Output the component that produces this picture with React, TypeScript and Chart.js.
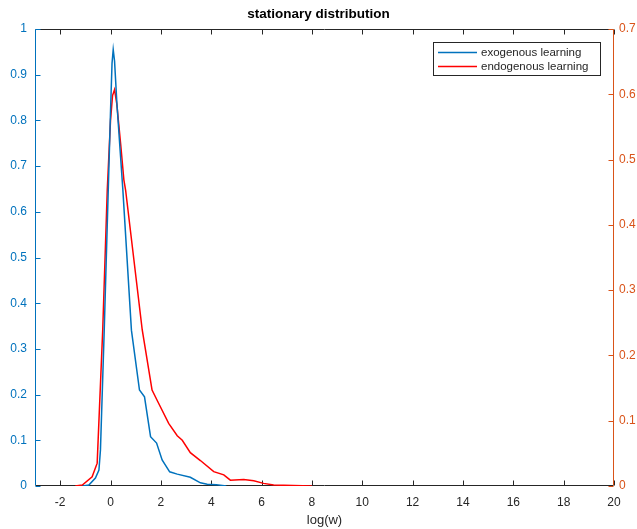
import React, { useEffect, useRef } from "react";
import { Chart, registerables } from "chart.js";

Chart.register(...registerables);

const FONT = "'Liberation Sans', Arial, Helvetica, sans-serif";
const BLUE = "#0072BD";
const ORANGE = "#D95319";
const RED = "#FF0000";
const DARK = "#262626";

const titleText = "stationary distribution";
const xTitle = "log(w)";
const seriesLabels = ["exogenous learning", "endogenous learning"];

const xTickValues = [-2, 0, 2, 4, 6, 8, 10, 12, 14, 16, 18, 20];
const leftTickValues = [0, 0.1, 0.2, 0.3, 0.4, 0.5, 0.6, 0.7, 0.8, 0.9, 1];
const rightTickValues = [0, 0.1, 0.2, 0.3, 0.4, 0.5, 0.6, 0.7];

// exogenous learning (left axis)
const exoX = [-1.1, -0.86, -0.6, -0.46, -0.4, -0.25, -0.09, 0.0, 0.06, 0.107, 0.16, 0.25, 0.4, 0.49, 0.83, 1.15, 1.35, 1.59, 1.83, 2.05, 2.35, 2.65, 3.17, 3.57, 3.84, 4.2, 4.6];
const exoY = [0, 0.002, 0.0175, 0.035, 0.079, 0.341, 0.648, 0.82, 0.925, 0.955, 0.93, 0.84, 0.72, 0.648, 0.341, 0.21, 0.195, 0.108, 0.094, 0.057, 0.031, 0.026, 0.019, 0.007, 0.004, 0.003, 0];

// endogenous learning (right axis)
const endoX = [-1.4, -1.12, -0.73, -0.53, -0.31, -0.13, 0.0, 0.08, 0.16, 0.25, 0.4, 0.53, 0.6, 1.26, 1.65, 1.88, 2.31, 2.65, 2.85, 3.17, 3.57, 4.1, 4.5, 4.76, 5.29, 5.69, 6.08, 6.48, 6.88, 8.0];
const endoY = [0, 0.0015, 0.014, 0.035, 0.239, 0.453, 0.56, 0.598, 0.607, 0.585, 0.525, 0.469, 0.453, 0.239, 0.147, 0.129, 0.096, 0.077, 0.07, 0.051, 0.039, 0.022, 0.017, 0.009, 0.01, 0.008, 0.004, 0.0015, 0.001, 0];

const fmt = (v: number) => Number(v.toFixed(1)).toString();

const axesPlugin = {
  id: "matlabAxes",
  beforeDatasetsDraw(chart: any) {
    const { ctx, chartArea, scales } = chart;
    const L = Math.round(chartArea.left) + 0.5;
    const R = Math.round(chartArea.right) - 0.5;
    const T = Math.round(chartArea.top) + 0.5;
    const B = Math.round(chartArea.bottom) - 0.5;
    const tl = 5;
    ctx.save();
    ctx.lineWidth = 1;
    ctx.strokeStyle = DARK;
    ctx.beginPath();
    ctx.moveTo(L, T); ctx.lineTo(R, T);
    ctx.moveTo(L, B); ctx.lineTo(R, B);
    xTickValues.forEach((v) => {
      const px = Math.round(scales.x.getPixelForValue(v)) + 0.5;
      ctx.moveTo(px, B); ctx.lineTo(px, B - tl);
      ctx.moveTo(px, T); ctx.lineTo(px, T + tl);
    });
    ctx.stroke();
    ctx.strokeStyle = BLUE;
    ctx.beginPath();
    ctx.moveTo(L, T); ctx.lineTo(L, B);
    leftTickValues.forEach((v) => {
      const py = Math.round(scales.y.getPixelForValue(v)) + 0.5;
      ctx.moveTo(L, py); ctx.lineTo(L + tl, py);
    });
    ctx.stroke();
    ctx.strokeStyle = ORANGE;
    ctx.beginPath();
    ctx.moveTo(R, T); ctx.lineTo(R, B);
    rightTickValues.forEach((v) => {
      const py = Math.round(scales.y1.getPixelForValue(v)) + 0.5;
      ctx.moveTo(R, py); ctx.lineTo(R - tl, py);
    });
    ctx.stroke();
    ctx.restore();
  },
  afterDatasetsDraw(chart: any) {
    const { ctx } = chart;
    const bx = 433.5, by = 42.5, bw = 167, bh = 33;
    ctx.save();
    ctx.fillStyle = "#ffffff";
    ctx.fillRect(bx, by, bw, bh);
    ctx.strokeStyle = DARK;
    ctx.lineWidth = 1;
    ctx.strokeRect(bx, by, bw, bh);
    ctx.font = `11.5px ${FONT}`;
    ctx.textBaseline = "middle";
    ctx.textAlign = "left";
    chart.data.datasets.forEach((ds: any, i: number) => {
      const yy = 52.5 + i * 14;
      ctx.strokeStyle = ds.borderColor;
      ctx.lineWidth = 1.5;
      ctx.beginPath();
      ctx.moveTo(438, yy);
      ctx.lineTo(477, yy);
      ctx.stroke();
      ctx.fillStyle = DARK;
      ctx.fillText(ds.label, 481, yy + 0.5);
    });
    ctx.restore();
  },
};

export default function App() {
  const ref = useRef<HTMLCanvasElement | null>(null);
  useEffect(() => {
    if (!ref.current) return;
    const chart = new Chart(ref.current, {
      type: "line",
      data: {
        datasets: [
          {
            label: seriesLabels[0],
            data: exoX.map((x, i) => ({ x, y: exoY[i] })),
            borderColor: BLUE,
            borderWidth: 1.5,
            pointRadius: 0,
            tension: 0,
            yAxisID: "y",
          },
          {
            label: seriesLabels[1],
            data: endoX.map((x, i) => ({ x, y: endoY[i] })),
            borderColor: RED,
            borderWidth: 1.5,
            pointRadius: 0,
            tension: 0,
            yAxisID: "y1",
          },
        ],
      },
      options: {
        animation: false,
        responsive: false,
        maintainAspectRatio: false,
        layout: { padding: 0 },
        plugins: {
          legend: { display: false },
          tooltip: { enabled: false },
          title: {
            display: true,
            text: titleText,
            color: "#000",
            font: { family: FONT, size: 13.5, weight: "bold", lineHeight: 1.2 },
            padding: { top: 6, bottom: 6.8 },
          },
        },
        scales: {
          x: {
            type: "linear",
            min: -3,
            max: 20,
            grid: { display: false, drawTicks: false },
            border: { display: false },
            afterBuildTicks: (s: any) => { s.ticks = xTickValues.map((value) => ({ value })); },
            afterFit: (s: any) => { s.height = 43; },
            ticks: { color: DARK, font: { family: FONT, size: 12 }, padding: 9, maxRotation: 0, autoSkip: false, callback: (v: any) => String(v) },
            title: { display: true, text: xTitle, color: DARK, font: { family: FONT, size: 13 }, padding: { top: 0, bottom: 1 } },
          },
          y: {
            type: "linear",
            position: "left",
            min: 0,
            max: 1,
            grid: { display: false, drawTicks: false },
            border: { display: false },
            afterBuildTicks: (s: any) => { s.ticks = leftTickValues.map((value) => ({ value })); },
            afterFit: (s: any) => { s.width = 35; },
            ticks: { color: BLUE, font: { family: FONT, size: 12 }, padding: 8, autoSkip: false, callback: (v: any) => fmt(v) },
          },
          y1: {
            type: "linear",
            position: "right",
            min: 0,
            max: 0.7,
            grid: { display: false, drawTicks: false },
            border: { display: false },
            afterBuildTicks: (s: any) => { s.ticks = rightTickValues.map((value) => ({ value })); },
            afterFit: (s: any) => { s.width = 23; },
            ticks: { color: ORANGE, font: { family: FONT, size: 12 }, padding: 5, autoSkip: false, callback: (v: any) => fmt(v) },
          },
        },
      } as any,
      plugins: [axesPlugin],
    });
    return () => chart.destroy();
  }, []);
  return (
    <div style={{ position: "absolute", left: 0, top: 0, width: 637, height: 529, background: "#fff" }}>
      <canvas ref={ref} width={637} height={529} style={{ display: "block" }} />
    </div>
  );
}
